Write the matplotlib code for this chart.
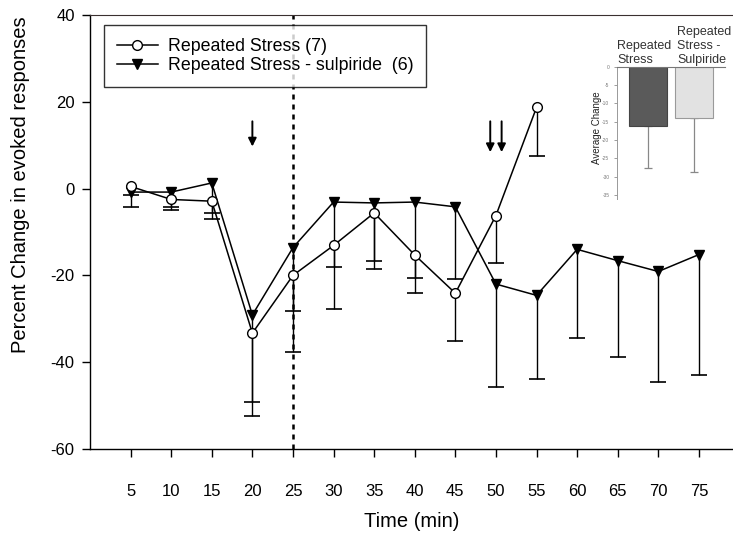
import matplotlib
matplotlib.use("Agg")
import matplotlib.pyplot as plt
import numpy as np

plt.rcParams['font.family'] = ['Liberation Sans', 'DejaVu Sans']
plt.rcParams['axes.unicode_minus'] = False

# main time course
time_rs = [5, 10, 15, 20, 25, 30, 35, 40, 45, 50, 55]
mean_rs = [0.5, -2.5, -2.9, -33.3, -20.0, -13.1, -5.6, -15.3, -24.1, -6.2, 18.7]
err_rs = [2.0, 2.5, 4.0, 19.2, 17.7, 5.0, 11.1, 5.2, 11.1, 11.0, 11.1]

time_sul = [5, 10, 15, 20, 25, 30, 35, 40, 45, 50, 55, 60, 65, 70, 75]
mean_sul = [-0.8, -0.8, 1.3, -29.1, -13.6, -3.1, -3.3, -3.1, -4.2, -22.0, -24.6,
            -14.0, -16.6, -19.1, -15.2]
err_sul = [3.5, 3.4, 6.9, 20.1, 14.7, 24.7, 15.2, 21.0, 16.6, 23.6, 19.3,
           20.4, 22.1, 25.4, 27.8]

xticks = [5, 10, 15, 20, 25, 30, 35, 40, 45, 50, 55, 60, 65, 70, 75]
yticks = [-60, -40, -20, 0, 20, 40]
arrow_times = [20, 49.3, 50.7]

# inset averages
groups = ["Repeated\nStress", "Repeated\nStress -\nSulpiride"]
avg_change = [-16.1, -13.9]
avg_err = [11.6, 14.9]

fig = plt.figure(figsize=(7.33, 5.45), dpi=100)
ax = fig.add_axes([90 / 733, 96 / 545, 643 / 733, 434 / 545])

def draw_lower_err(x, m, e):
    low = np.array(m) - np.array(e)
    ax.vlines(x, low, m, color='black', lw=1.0, zorder=2)
    ax.plot(x, low, ls='none', marker='_', ms=11, mew=1.2, color='black', zorder=2)

draw_lower_err(time_rs, mean_rs, err_rs)
draw_lower_err(time_sul, mean_sul, err_sul)

ax.plot(time_sul, mean_sul, color='black', lw=1.1, marker='v', ms=7.5,
        mfc='black', mec='black', label='Repeated Stress - sulpiride  (6)', zorder=3)
ax.plot(time_rs, mean_rs, color='black', lw=1.1, marker='o', ms=7,
        mfc='white', mec='black', mew=1.0, label='Repeated Stress (7)', zorder=4)

ax.axvline(25, color='black', lw=1.8, ls=(0, (2, 2)), zorder=1)

for t in arrow_times:
    top = 15.5
    tip = 9.7 if t == 20 else 8.4
    ax.annotate('', xy=(t, tip), xytext=(t, top),
                arrowprops=dict(arrowstyle='-|>', color='black', lw=1.4,
                                mutation_scale=12, shrinkA=0, shrinkB=0))

ax.set_xlim(0, 79.2)
ax.set_ylim(-60, 40)
ax.set_xticks(xticks)
ax.set_yticks(yticks)
ax.tick_params(direction='out', length=6, width=1, labelsize=12)
ax.tick_params(axis='x', pad=19)
ax.tick_params(axis='y', pad=5)
ax.spines['right'].set_visible(False)
ax.spines['top'].set_color('#3a3030')
for s in ['left', 'bottom']:
    ax.spines[s].set_linewidth(1.0)
ax.set_xlabel('Time (min)', fontsize=14.5)
ax.set_ylabel('Percent Change in evoked responses', fontsize=14.5)
ax.xaxis.set_label_coords(0.5, -0.145)
ax.yaxis.set_label_coords(-0.093, 0.608)

handles, labels = ax.get_legend_handles_labels()
leg = ax.legend(handles[::-1], labels[::-1], loc='upper left',
                bbox_to_anchor=(0.0218, 0.977), borderaxespad=0,
                fontsize=12.8, frameon=True, fancybox=False, edgecolor='black',
                handlelength=2.3, handletextpad=0.56, borderpad=0.72,
                labelspacing=0.12)
leg.get_frame().set_linewidth(1.0)

# inset bar chart
ins = fig.add_axes([617 / 733, (545 - 198.7) / 545, 108 / 733, 132 / 545])
ins.bar([0, 1], avg_change, width=0.82, color=['#5a5a5a', '#e2e2e2'],
        edgecolor=['#444444', '#9a9a9a'], linewidth=0.8, zorder=2)
ins.errorbar([0, 1], avg_change, yerr=[avg_err, [0, 0]], fmt='none',
             ecolor='#888888', elinewidth=0.9, capsize=3, capthick=0.9, zorder=1)
ins.set_xlim(-0.67, 1.67)
ins.set_ylim(-36, 0)
ins.set_yticks(np.arange(-35, 1, 5))
ins.set_xticks([])
ins.tick_params(axis='y', labelsize=3.5, length=2, width=0.5, colors='#777777')
ins.spines['right'].set_visible(False)
ins.spines['bottom'].set_visible(False)
ins.spines['left'].set_color('#999999')
ins.spines['left'].set_linewidth(0.7)
ins.spines['top'].set_color('#777777')
ins.spines['top'].set_linewidth(0.8)
ins.set_ylabel('Average Change', fontsize=7, color='#222222')
ins.yaxis.set_label_coords(-0.14, 0.54)
ins.patch.set_alpha(0)
ins.text(-0.66, 0.2, groups[0], fontsize=9, color='#333333', ha='left', va='bottom')
ins.text(0.63, 0.2, groups[1], fontsize=9, color='#333333', ha='left', va='bottom')

fig.savefig('out.png', dpi=100)
